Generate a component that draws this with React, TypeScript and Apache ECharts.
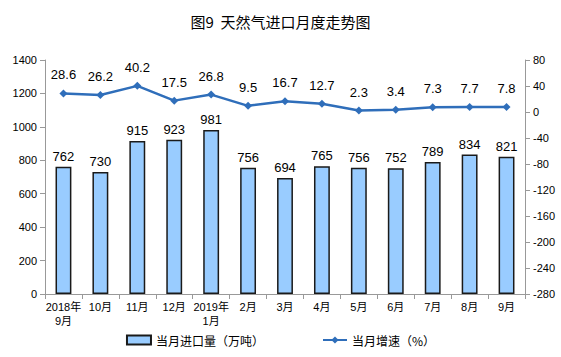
import React, { useEffect, useRef } from "react";
import * as echarts from "echarts";

const categories = ["2018年\n9月", "10月", "11月", "12月", "2019年\n1月", "2月", "3月", "4月", "5月", "6月", "7月", "8月", "9月"];
const importVolume = [762, 730, 915, 923, 981, 756, 694, 765, 756, 752, 789, 834, 821];
const growthRate = [28.6, 26.2, 40.2, 17.5, 26.8, 9.5, 16.7, 12.7, 2.3, 3.4, 7.3, 7.7, 7.8];

export default function App() {
  const ref = useRef<HTMLDivElement>(null);
  useEffect(() => {
    const chart = echarts.init(ref.current!, null, { renderer: "svg" });
    const font = "'Liberation Sans', Arial, 'Noto Sans CJK SC', sans-serif";
    chart.setOption({
      animation: false,
      textStyle: { fontFamily: font },
      title: {
        text: "图9  天然气进口月度走势图",
        left: "center",
        top: 9,
        textStyle: { fontSize: 15, fontWeight: "normal", color: "#000", fontFamily: "'Noto Sans CJK SC', sans-serif" },
      },
      legend: {
        bottom: 6,
        left: "center",
        itemGap: 58,
        itemWidth: 24,
        itemHeight: 9,
        textStyle: { fontSize: 12, color: "#000", fontFamily: "'Noto Sans CJK SC', sans-serif" },
        data: [
          { name: "当月进口量（万吨）", icon: "rect" },
          { name: "当月增速（%）" },
        ],
      },
      grid: { left: 45, right: 36, top: 60, bottom: 63 },
      xAxis: {
        type: "category",
        data: categories,
        axisLine: { lineStyle: { color: "#999" } },
        axisTick: { show: true, lineStyle: { color: "#999" } },
        axisLabel: { color: "#000", fontSize: 11, interval: 0, lineHeight: 14, margin: 6 },
      },
      yAxis: [
        {
          type: "value",
          min: 0,
          max: 1400,
          interval: 200,
          splitLine: { show: false },
          axisLine: { show: true, lineStyle: { color: "#999" } },
          axisTick: { show: true, lineStyle: { color: "#999" } },
          axisLabel: { color: "#000", fontSize: 11, formatter: (v: number) => String(v) },
        },
        {
          type: "value",
          min: -280,
          max: 80,
          interval: 40,
          splitLine: { show: false },
          axisLine: { show: true, lineStyle: { color: "#999" } },
          axisTick: { show: true, lineStyle: { color: "#999" } },
          axisLabel: { color: "#000", fontSize: 11, formatter: (v: number) => String(v) },
        },
      ],
      series: [
        {
          name: "当月进口量（万吨）",
          type: "bar",
          data: importVolume,
          barWidth: "43%",
          itemStyle: { color: "#99CCFF", borderColor: "#1a1a1a", borderWidth: 1.5 },
          label: { show: true, position: "top", color: "#000", fontSize: 13, distance: 4 },
        },
        {
          name: "当月增速（%）",
          type: "line",
          yAxisIndex: 1,
          data: growthRate,
          symbol: "diamond",
          symbolSize: 8,
          lineStyle: { color: "#2F6EBA", width: 2.5 },
          itemStyle: { color: "#2F6EBA" },
          label: { show: true, position: "top", color: "#000", fontSize: 13, distance: 8 },
        },
      ],
    });
    return () => chart.dispose();
  }, []);
  return <div ref={ref} style={{ width: 561, height: 357, position: "absolute", left: 0, top: 0 }} />;
}
